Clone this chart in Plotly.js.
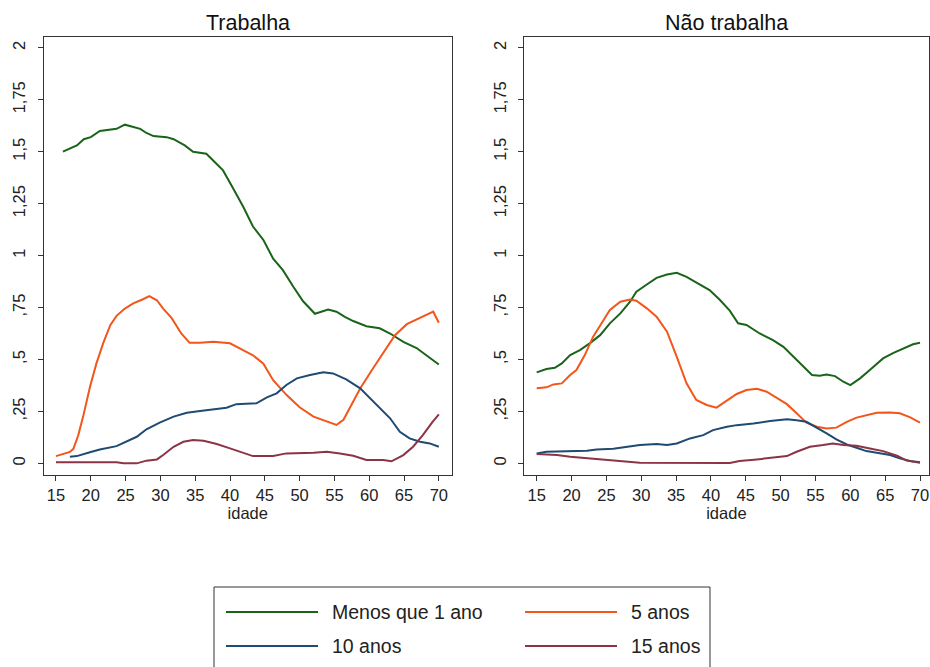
<!DOCTYPE html>
<html><head><meta charset="utf-8">
<script src="https://cdn.plot.ly/plotly-3.0.1.min.js"></script>
<style>html,body{margin:0;padding:0;background:#fff;overflow:hidden}</style>
</head><body><div id="chart" style="width:930px;height:667px"></div>
<script>
const panelTitles = ["Trabalha", "Não trabalha"];
const seriesNames = ["Menos que 1 ano", "5 anos", "10 anos", "15 anos"];
const seriesColors = ["#1a641a", "#f2561a", "#1f4a72", "#8c3446"];
const xTitle = "idade";
const xTickVals = [15, 20, 25, 30, 35, 40, 45, 50, 55, 60, 65, 70];
const yTickVals = [0, 0.25, 0.5, 0.75, 1, 1.25, 1.5, 1.75, 2];
const yTickText = ["0", ",25", ",5", ",75", "1", "1,25", "1,5", "1,75", "2"];

// Painel "Trabalha"
const trabMenos1Age = [16,17,18,19,20,21.3,22.5,23.7,24.9,26.1,27.1,28,29,30.9,31.9,33.5,34.7,36.6,37.8,39,40.5,41.9,43.3,44.8,46.2,47.6,49.1,50.5,52.2,53.2,54.1,55.3,56.5,57.7,59.6,61.5,63,64.9,66.8,68.2,70];
const trabMenos1Val = [1.50,1.515,1.53,1.56,1.57,1.60,1.605,1.61,1.63,1.62,1.61,1.59,1.575,1.57,1.56,1.53,1.50,1.49,1.45,1.41,1.32,1.235,1.14,1.075,0.985,0.93,0.85,0.78,0.72,0.73,0.74,0.73,0.705,0.685,0.66,0.65,0.625,0.585,0.555,0.52,0.476];
const trab5Age = [15,16,17,17.5,18.2,18.9,19.9,20.8,21.8,22.8,23.7,24.9,26.1,27.5,28.4,29.5,30.4,31.6,33,34.2,35.7,37.6,40,41.4,43.3,44.8,46.2,48.1,50,52,53.9,55.3,56.3,57.7,58.7,60.6,62,63.7,65.4,67.3,68.7,69.2,70];
const trab5Val = [0.035,0.045,0.055,0.07,0.135,0.225,0.37,0.48,0.58,0.665,0.71,0.745,0.77,0.79,0.805,0.785,0.745,0.70,0.625,0.58,0.58,0.585,0.578,0.553,0.52,0.48,0.40,0.33,0.27,0.225,0.20,0.185,0.21,0.30,0.36,0.46,0.53,0.617,0.67,0.70,0.725,0.73,0.677];
const trab10Age = [17,18,20,21.3,23.7,25.1,26.6,28,29.9,31.9,33.8,35.7,37.6,39.5,40.9,43.8,45.3,46.7,48.1,49.6,51.5,53.4,54.8,56.7,58.7,60.1,61.5,63,64.4,65.8,67.3,68.7,70];
const trab10Val = [0.032,0.035,0.055,0.067,0.083,0.104,0.128,0.164,0.196,0.225,0.244,0.252,0.261,0.268,0.285,0.289,0.318,0.337,0.377,0.409,0.425,0.438,0.433,0.404,0.361,0.313,0.265,0.217,0.152,0.12,0.104,0.096,0.08];
const trab15Age = [15,23.7,24.7,26.6,28,29.5,30.4,31.9,33.3,34.7,36.2,38.1,40,41.4,43.3,46.2,48.1,52,53.9,55.8,57.7,59.6,62,63.2,64.9,66.3,67.7,69.1,70];
const trab15Val = [0.005,0.005,0,0,0.013,0.019,0.04,0.08,0.104,0.112,0.109,0.093,0.072,0.056,0.035,0.035,0.048,0.051,0.056,0.048,0.037,0.016,0.016,0.01,0.04,0.08,0.136,0.20,0.236];

// Painel "Não trabalha"
const naoMenos1Age = [15,16.4,17.6,18.6,19.8,21.2,22.7,24.1,25.5,27,28.4,29.3,30.8,32.2,33.7,35.1,36.5,38.4,39.8,41.3,42.7,43.9,45.1,47,48.9,50.4,51.8,53.3,54.5,55.6,56.6,57.8,59,60,61.4,62.8,64.7,66.2,67.6,69,70];
const naoMenos1Val = [0.438,0.454,0.46,0.481,0.521,0.545,0.58,0.617,0.674,0.722,0.778,0.826,0.861,0.893,0.909,0.917,0.898,0.863,0.834,0.786,0.735,0.674,0.666,0.625,0.593,0.561,0.513,0.465,0.425,0.422,0.428,0.42,0.393,0.377,0.409,0.449,0.505,0.532,0.553,0.573,0.58];
const nao5Age = [15,16.4,17.4,18.6,19.8,20.7,21.9,23.1,24.6,25.5,27,28.4,29.3,30.8,32.2,33.7,35.1,36.5,37.9,39.4,40.8,42.3,43.7,45.1,46.6,48,49.4,50.9,52.3,53.7,55.2,56.6,58,59.5,60.9,62.3,63.8,65.7,67.1,68.6,70];
const nao5Val = [0.361,0.366,0.38,0.385,0.425,0.449,0.521,0.61,0.69,0.738,0.778,0.789,0.783,0.746,0.706,0.634,0.513,0.385,0.305,0.281,0.268,0.302,0.334,0.353,0.359,0.345,0.318,0.285,0.241,0.196,0.176,0.168,0.172,0.2,0.22,0.233,0.244,0.245,0.241,0.221,0.196];
const nao10Age = [15,16.4,22.2,23.6,26,28.4,29.8,32.2,33.7,35.1,37,38.9,40.3,42.3,43.7,46.1,48.5,50.9,52.3,53.7,55.2,56.6,58,59.5,60.9,62.3,63.8,65.7,67.1,68.6,70];
const nao10Val = [0.048,0.056,0.061,0.067,0.07,0.083,0.088,0.093,0.088,0.096,0.12,0.136,0.16,0.176,0.184,0.192,0.204,0.212,0.208,0.2,0.173,0.144,0.115,0.091,0.075,0.059,0.051,0.04,0.024,0.011,0.005];
const nao15Age = [15,17.9,19.8,22.7,25.5,27.9,29.8,42.7,44.1,46.6,49.4,50.9,52.3,54.2,56.1,57.5,59,60.9,62.8,64.7,66.7,68.1,70];
const nao15Val = [0.045,0.04,0.032,0.024,0.016,0.011,0.003,0.002,0.011,0.019,0.029,0.035,0.056,0.08,0.088,0.096,0.088,0.085,0.072,0.059,0.037,0.013,0.003];

const panels = [
  {ages: [trabMenos1Age, trab5Age, trab10Age, trab15Age], vals: [trabMenos1Val, trab5Val, trab10Val, trab15Val]},
  {ages: [naoMenos1Age, nao5Age, nao10Age, nao15Age], vals: [naoMenos1Val, nao5Val, nao10Val, nao15Val]}
];

const W = 930, H = 667;
const px = v => v / W;
const py = v => 1 - v / H;

const traces = [];
panels.forEach((p, pi) => {
  p.ages.forEach((a, si) => {
    traces.push({
      x: a, y: p.vals[si], type: 'scatter', mode: 'lines',
      name: seriesNames[si], showlegend: false,
      line: {color: seriesColors[si], width: 2},
      xaxis: pi === 0 ? 'x' : 'x2', yaxis: pi === 0 ? 'y' : 'y2',
      hoverinfo: 'skip'
    });
  });
});

const font = {family: 'Liberation Sans, Arial, sans-serif', color: '#222'};
function xax(domain, range) {
  return {
    domain: domain, range: range, tickmode: 'array', tickvals: xTickVals,
    ticks: 'outside', ticklen: 5, tickwidth: 1, tickcolor: '#333',
    showline: true, linecolor: '#333', linewidth: 1, mirror: true,
    showgrid: false, zeroline: false, automargin: false,
    tickfont: Object.assign({size: 16.5}, font),
    title: {text: xTitle, font: Object.assign({size: 16.5}, font), standoff: 0}
  };
}
function yax(domain, anchor) {
  return {
    domain: domain, range: [-0.056, 2.052], anchor: anchor,
    tickmode: 'array', tickvals: yTickVals, ticktext: yTickText,
    tickangle: -90, ticks: 'outside', ticklen: 5, tickwidth: 1, tickcolor: '#333',
    ticklabelstandoff: 6,
    showline: true, linecolor: '#333', linewidth: 1, mirror: true,
    showgrid: false, zeroline: false, automargin: false,
    tickfont: Object.assign({size: 16.5}, font)
  };
}

const yDom = [py(475), py(37)];
const layout = {
  width: W, height: H, margin: {l: 0, r: 0, t: 0, b: 0},
  paper_bgcolor: '#fff', plot_bgcolor: '#fff',
  showlegend: false,
  xaxis: Object.assign(xax([px(44), px(451.5)], [13.28, 71.82]), {anchor: 'y'}),
  yaxis: yax(yDom, 'x'),
  xaxis2: Object.assign(xax([px(524.3), px(928.5)], [13.22, 71.22]), {anchor: 'y2'}),
  yaxis2: yax(yDom, 'x2'),
  annotations: [],
  shapes: []
};

// Panel titles
[[247.7], [726.4]].forEach((c, i) => {
  layout.annotations.push({
    text: panelTitles[i], xref: 'paper', yref: 'paper',
    x: px(c[0]), y: py(23), xanchor: 'center', yanchor: 'middle',
    showarrow: false, font: Object.assign({size: 21.5}, font, {color: '#111'})
  });
});

// Legend box
layout.shapes.push({
  type: 'rect', xref: 'paper', yref: 'paper',
  x0: px(214), x1: px(710), y0: py(587), y1: py(690),
  line: {color: '#333', width: 1}, fillcolor: 'rgba(0,0,0,0)'
});
const legPos = [[226, 612], [525, 612], [226, 646], [525, 646]];
seriesNames.forEach((n, i) => {
  const [lx, ly] = legPos[i];
  layout.shapes.push({
    type: 'line', xref: 'paper', yref: 'paper',
    x0: px(lx), x1: px(lx + 92), y0: py(ly), y1: py(ly),
    line: {color: seriesColors[i], width: 2}
  });
  layout.annotations.push({
    text: n, xref: 'paper', yref: 'paper', x: px(lx + 104), y: py(ly),
    xanchor: 'left', yanchor: 'middle', showarrow: false,
    font: Object.assign({size: 19.5}, font)
  });
});

Plotly.newPlot('chart', traces, layout, {staticPlot: true, displayModeBar: false});
</script></body></html>
